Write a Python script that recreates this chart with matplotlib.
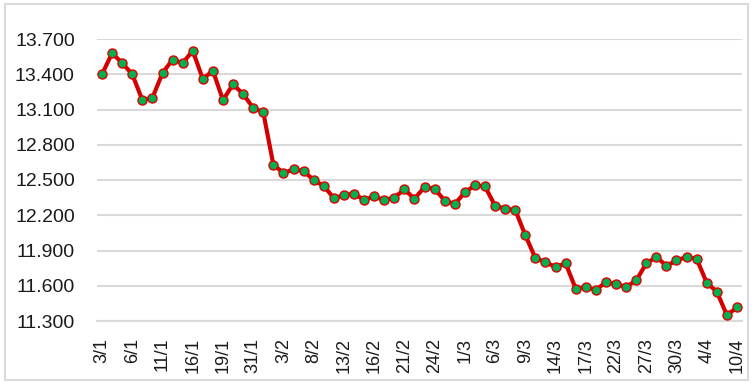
import matplotlib
matplotlib.use("Agg")
import matplotlib.pyplot as plt
from matplotlib.patches import Rectangle
from matplotlib.ticker import FuncFormatter

# gia tri tung phien (64 phien)
values = [13400, 13580, 13495, 13400, 13180, 13200, 13410, 13525, 13495, 13600,
          13360, 13430, 13180, 13315, 13230, 13115, 13075, 12630, 12560, 12590,
          12575, 12500, 12450, 12345, 12370, 12385, 12330, 12360, 12330, 12350,
          12420, 12340, 12440, 12425, 12325, 12295, 12395, 12455, 12445, 12280,
          12255, 12245, 12030, 11835, 11800, 11760, 11790, 11575, 11590, 11565,
          11630, 11615, 11590, 11645, 11790, 11845, 11770, 11815, 11845, 11830,
          11625, 11550, 11350, 11415]

# nhan ngay, cu 3 phien mot nhan
tick_labels = ["3/1", "6/1", "11/1", "16/1", "19/1", "31/1", "3/2", "8/2", "13/2",
               "16/2", "21/2", "24/2", "1/3", "6/3", "9/3", "14/3", "17/3", "22/3",
               "27/3", "30/3", "4/4", "10/4"]

yticks = [11300, 11600, 11900, 12200, 12500, 12800, 13100, 13400, 13700]

plt.rcParams["font.family"] = ["Liberation Sans", "DejaVu Sans"]

fig = plt.figure(figsize=(7.55, 3.86), dpi=100)
ax = fig.add_axes([97/755, 1-321/386, (742-97)/755, (321-39)/386])

x = list(range(len(values)))
ax.plot(x, values, color="#D40000", linewidth=3, marker="o", markersize=6.5,
        markerfacecolor="#00B050", markeredgecolor="#E00000", markeredgewidth=1,
        solid_joinstyle="round", zorder=3)

ax.set_xlim(-0.5, len(values) - 0.5)
ax.set_ylim(11300, 13700)
ax.set_yticks(yticks)
ax.yaxis.set_major_formatter(FuncFormatter(lambda v, p: f"{v:,.0f}".replace(",", ".")))
ax.set_xticks(list(range(0, len(values), 3)))
ax.set_xticklabels(tick_labels, rotation=90)

ax.grid(axis="y", color="#D9D9D9", linewidth=1.5)
ax.set_axisbelow(True)
for s in ["top", "right", "left"]:
    ax.spines[s].set_visible(False)
ax.spines["bottom"].set_color("#D9D9D9")
ax.spines["bottom"].set_linewidth(1.5)
ax.tick_params(axis="y", length=0, pad=16, labelsize=14, labelcolor="#1a1a1a")
ax.tick_params(axis="x", length=0, pad=12, labelsize=13, labelcolor="#1a1a1a")

# khung vien bieu do
fig.patches.append(Rectangle((5/755, 1-380/386), 743/755, 376/386,
                             transform=fig.transFigure, fill=False,
                             edgecolor="#D9D9D9", linewidth=1.5))

fig.savefig("out.png", dpi=100)
